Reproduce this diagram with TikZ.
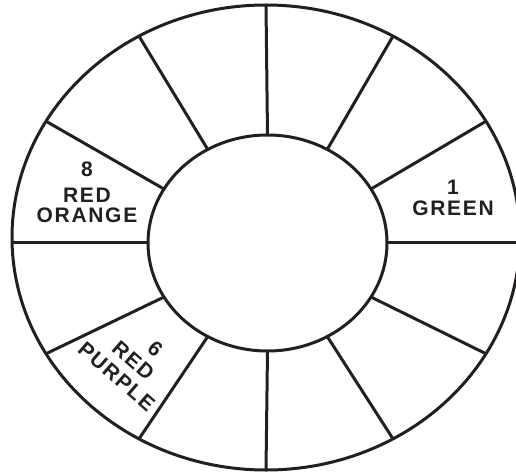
\documentclass[tikz,border=0pt]{standalone}
\usepackage{fontspec}
\newfontfamily\labfont{Liberation Sans}[LetterSpace=8]
\definecolor{ink}{RGB}{35,31,32}
\begin{document}
\begin{tikzpicture}[x=1pt,y=-1pt,
  rim/.style={draw=ink,line width=3pt},
  lab/.style={text=ink,inner sep=0pt,align=center,font=\labfont\bfseries\fontsize{21}{20.5}\selectfont}]
\useasboundingbox (0,0) rectangle (516,473);
% ellipses
\draw[rim] (266,237.5) ellipse [x radius=254, y radius=232.5];
\draw[rim] (267.5,243) ellipse [x radius=119.5, y radius=108];
% spokes
\foreach \t in {30,60,90,120,150,210,240,270,300,330}{
  \coordinate (i\t) at ({267.5+119.5*cos(\t)},{243-108*sin(\t)});
  \coordinate (o\t) at ({266+254*cos(\t)},{237.5-232.5*sin(\t)});
  \draw[rim] (i\t) -- (o\t);
}
\coordinate (i0) at (387,242);
\coordinate (o0) at (522,242);
\coordinate (i180) at (148,242);
\coordinate (o180) at (11,242);
\draw[rim] (i0) -- (o0);
\draw[rim] (i180) -- (o180);
% labels
\node[lab] (n8) at (87,192.5) {8\\[5pt]RED\\ORANGE};
\node[lab] (n1) at (453,198) {1\\GREEN};
\node[lab,rotate=-41] (n6) at (131.8,359.1)
  {\hspace*{22pt}6\\[2.5pt]\hspace*{4pt}RED\\[2.5pt]PURPLE};
\end{tikzpicture}
\end{document}
